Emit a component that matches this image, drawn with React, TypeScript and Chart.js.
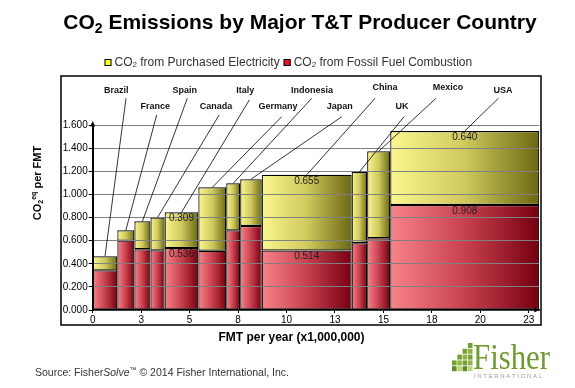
import React, { useEffect, useRef } from 'react';
import { Chart, registerables } from 'chart.js';

Chart.register(...registerables);

// ---------------- data ----------------
const countries = ['Brazil', 'France', 'Spain', 'Canada', 'Italy', 'Germany', 'Indonesia', 'Japan', 'China', 'UK', 'Mexico', 'USA'];
// production, million FMT per year (bar widths)
const productionMFMT = [1.27, 0.88, 0.83, 0.73, 1.74, 1.44, 0.72, 1.11, 4.64, 0.80, 1.19, 7.69];
// CO2eq per FMT from fossil fuel combustion
const fossilFuelCO2 = [0.343, 0.600, 0.525, 0.516, 0.536, 0.513, 0.689, 0.727, 0.514, 0.577, 0.620, 0.908];
// CO2eq per FMT from purchased electricity
const electricityCO2 = [0.122, 0.090, 0.242, 0.284, 0.309, 0.548, 0.407, 0.404, 0.655, 0.617, 0.753, 0.640];
const valueLabelCountries = ['Italy', 'China', 'USA'];
const xTickStep = 2.5;
const yMax = 1.6;
const yTickStep = 0.2;

const legendElectricity = ' from Purchased Electricity';
const legendFossil = ' from Fossil Fuel Combustion';
const titleRest = ' Emissions by Major T&T Producer Country';
const xTitle = 'FMT per year (x1,000,000)';

// ------------- annotation layout (callout text position, leader start) -------------
// tx / lx in x-axis units, ty / ly in px above the plot top
const calloutLayout: Record<string, { tx: number; ty: number; lx: number; ly: number }> = {
  Brazil: { tx: 1.21, ty: 34.3, lx: 1.72, ly: 26.7 },
  France: { tx: 3.23, ty: 18.3, lx: 3.30, ly: 10 },
  Spain: { tx: 4.75, ty: 34.3, lx: 4.88, ly: 26.7 },
  Canada: { tx: 6.36, ty: 18.3, lx: 6.52, ly: 10 },
  Italy: { tx: 7.87, ty: 34.3, lx: 8.08, ly: 25 },
  Germany: { tx: 9.56, ty: 18.3, lx: 9.75, ly: 8.3 },
  Indonesia: { tx: 11.32, ty: 34.3, lx: 11.30, ly: 26.7 },
  Japan: { tx: 12.75, ty: 18.3, lx: 12.85, ly: 8.3 },
  China: { tx: 15.08, ty: 37.7, lx: 14.57, ly: 26.7 },
  UK: { tx: 15.96, ty: 18.3, lx: 16.06, ly: 8.3 },
  Mexico: { tx: 18.33, ty: 37.7, lx: 17.71, ly: 26.7 },
  USA: { tx: 21.17, ty: 34.3, lx: 20.93, ly: 26.7 },
};

const FONT = "'Liberation Sans', Arial, sans-serif";
const RED_STOPS = ['#f7838a', '#c8404e', '#760010'];
const YELLOW_STOPS = ['#fbf68e', '#cfc95e', '#6c6812'];

const totalWidth = productionMFMT.reduce((a, b) => a + b, 0);
const starts = productionMFMT.map((_, i) => productionMFMT.slice(0, i).reduce((a, b) => a + b, 0));
const centers = starts.map((s, i) => s + productionMFMT[i] / 2);

function minSampleGap(): number {
  const vals = [...centers].sort((a, b) => a - b);
  let m = xTickStep;
  for (let i = 1; i < vals.length; i++) m = Math.min(m, vals[i] - vals[i - 1]);
  return m;
}

type Part = { t: string; font: string; dy?: number };
function drawParts(ctx: CanvasRenderingContext2D, parts: Part[], x: number, y: number, align: 'left' | 'center') {
  let w = 0;
  for (const p of parts) { ctx.font = p.font; w += ctx.measureText(p.t).width; }
  let cx = align === 'center' ? x - w / 2 : x;
  ctx.textAlign = 'left';
  for (const p of parts) {
    ctx.font = p.font;
    ctx.fillText(p.t, cx, y + (p.dy || 0));
    cx += ctx.measureText(p.t).width;
  }
  return w;
}

function gradientFor(i: number, stops: string[]) {
  return (c: any) => {
    const chart = c.chart;
    const xs = chart.scales && chart.scales.x;
    if (!chart.chartArea || !xs) return stops[1];
    const x0 = xs.getPixelForValue(starts[i]);
    const x1 = xs.getPixelForValue(starts[i] + productionMFMT[i]);
    const g = chart.ctx.createLinearGradient(x0, 0, x1, 0);
    g.addColorStop(0, stops[0]);
    g.addColorStop(0.5, stops[1]);
    g.addColorStop(1, stops[2]);
    return g;
  };
}

const decorPlugin = {
  id: 'decor',
  afterDraw(chart: any) {
    const ctx: CanvasRenderingContext2D = chart.ctx;
    const { left, right, top, bottom } = chart.chartArea;
    const xs = chart.scales.x;
    const ys = chart.scales.y;
    ctx.save();

    // frame around plot
    ctx.strokeStyle = '#000';
    ctx.lineWidth = 1.5;
    ctx.strokeRect(left - 31.7, top - 49, right - left + 33.4, bottom - top + 64);

    // axis arrows
    ctx.fillStyle = '#000';
    ctx.beginPath();
    ctx.moveTo(left, top - 4);
    ctx.lineTo(left - 2.5, top + 1.5);
    ctx.lineTo(left + 2.5, top + 1.5);
    ctx.closePath();
    ctx.fill();
    ctx.beginPath();
    ctx.moveTo(right, bottom);
    ctx.lineTo(right - 5, bottom - 2.5);
    ctx.lineTo(right - 5, bottom + 2.5);
    ctx.closePath();
    ctx.fill();

    // title
    ctx.fillStyle = '#000';
    ctx.textBaseline = 'alphabetic';
    drawParts(ctx, [
      { t: 'CO', font: `bold 21px ${FONT}` },
      { t: '2', font: `bold 14px ${FONT}`, dy: 4 },
      { t: titleRest, font: `bold 21px ${FONT}` },
    ], 300, 28.5, 'center');

    // legend
    const ly = 63;
    const drawLegendItem = (x: number, color: string, rest: string) => {
      ctx.fillStyle = color;
      ctx.fillRect(x, ly - 4, 7, 7);
      ctx.strokeStyle = '#000';
      ctx.lineWidth = 1;
      ctx.strokeRect(x + 0.5, ly - 3.5, 6, 6);
      ctx.fillStyle = '#333';
      ctx.textBaseline = 'middle';
      return drawParts(ctx, [
        { t: 'CO', font: `12px ${FONT}` },
        { t: '2', font: `8px ${FONT}`, dy: 2 },
        { t: rest, font: `12px ${FONT}` },
      ], x + 10, ly, 'left');
    };
    const w1 = drawLegendItem(104.5, '#ffff33', legendElectricity);
    drawLegendItem(104.5 + 10 + w1 + 4, '#e8102a', legendFossil);

    // y axis title
    ctx.save();
    ctx.translate(38, 183);
    ctx.rotate(-Math.PI / 2);
    ctx.fillStyle = '#000';
    ctx.textBaseline = 'middle';
    drawParts(ctx, [
      { t: 'CO', font: `bold 11px ${FONT}` },
      { t: '2', font: `bold 7px ${FONT}`, dy: 3 },
      { t: 'eq', font: `bold 7px ${FONT}`, dy: -4 },
      { t: ' per FMT', font: `bold 11px ${FONT}` },
    ], 0, 0, 'center');
    ctx.restore();

    // x axis title
    ctx.fillStyle = '#000';
    ctx.font = `bold 12px ${FONT}`;
    ctx.textAlign = 'center';
    ctx.textBaseline = 'middle';
    ctx.fillText(xTitle, 291.5, 337.5);

    // callouts
    countries.forEach((c, i) => {
      const L = calloutLayout[c];
      if (!L) return;
      const tx = xs.getPixelForValue(L.tx);
      const lx = xs.getPixelForValue(L.lx);
      const ex = xs.getPixelForValue(centers[i]);
      const ey = ys.getPixelForValue(fossilFuelCO2[i] + electricityCO2[i]);
      ctx.strokeStyle = '#000';
      ctx.lineWidth = 0.8;
      ctx.beginPath();
      ctx.moveTo(lx, top - L.ly);
      ctx.lineTo(ex, ey);
      ctx.stroke();
      ctx.fillStyle = '#111';
      ctx.font = `bold 9px ${FONT}`;
      ctx.textAlign = 'center';
      ctx.textBaseline = 'middle';
      ctx.fillText(c, tx, top - L.ty);
    });

    // value labels
    ctx.font = `10px ${FONT}`;
    ctx.fillStyle = '#222';
    ctx.textAlign = 'center';
    ctx.textBaseline = 'middle';
    countries.forEach((c, i) => {
      if (!valueLabelCountries.includes(c)) return;
      const cx = xs.getPixelForValue(centers[i]);
      ctx.fillText(fossilFuelCO2[i].toFixed(3), cx, ys.getPixelForValue(fossilFuelCO2[i]) + 6);
      ctx.fillText(electricityCO2[i].toFixed(3), cx, ys.getPixelForValue(fossilFuelCO2[i] + electricityCO2[i]) + 6);
    });

    // source
    ctx.fillStyle = '#333';
    ctx.textBaseline = 'middle';
    drawParts(ctx, [
      { t: 'Source: Fisher', font: `10.5px ${FONT}` },
      { t: 'Solve', font: `italic 10.5px ${FONT}` },
      { t: '™', font: `7px ${FONT}`, dy: -3 },
      { t: ' © 2014 Fisher International, Inc.', font: `10.5px ${FONT}` },
    ], 35, 373, 'left');

    // logo
    const greens = ['#5d8c22', '#8cb640', '#b9d47a', '#74a232'];
    const rows = [[3], [2, 3], [1, 2, 3], [0, 1, 2, 3], [0, 1, 2, 3]];
    rows.forEach((cols, r) => {
      cols.forEach((cc, k) => {
        ctx.fillStyle = greens[(r + cc + k) % greens.length];
        ctx.fillRect(452 + cc * 5.3, 343 + r * 5.8, 4.6, 5);
      });
    });
    ctx.fillStyle = '#6f9a30';
    ctx.font = `36px 'Liberation Serif', 'DejaVu Serif', serif`;
    ctx.textAlign = 'left';
    ctx.textBaseline = 'alphabetic';
    ctx.fillText('Fisher', 473, 369, 77);
    ctx.fillStyle = '#9a9a9a';
    ctx.font = `6px ${FONT}`;
    ctx.fillText('I N T E R N A T I O N A L', 474, 378, 75);

    ctx.restore();
  },
};

export default function App() {
  const ref = useRef<HTMLCanvasElement | null>(null);
  useEffect(() => {
    document.body.style.margin = '0';
    const canvas = ref.current;
    if (!canvas) return;
    const gap = minSampleGap();
    const datasets: any[] = [];
    countries.forEach((c, i) => {
      const common = {
        borderColor: '#000',
        borderWidth: 1.2,
        borderSkipped: false,
        grouped: false,
        categoryPercentage: 1,
        barPercentage: productionMFMT[i] / gap,
      };
      datasets.push({
        ...common,
        label: `${c} fossil`,
        data: [{ x: centers[i], y: [0, fossilFuelCO2[i]] }],
        backgroundColor: gradientFor(i, RED_STOPS),
      });
      datasets.push({
        ...common,
        label: `${c} electricity`,
        data: [{ x: centers[i], y: [fossilFuelCO2[i], fossilFuelCO2[i] + electricityCO2[i]] }],
        backgroundColor: gradientFor(i, YELLOW_STOPS),
      });
    });

    const chart = new Chart(canvas, {
      type: 'bar',
      data: { datasets },
      plugins: [decorPlugin],
      options: {
        responsive: false,
        animation: false,
        devicePixelRatio: 1,
        events: [],
        layout: { padding: { left: 62.7, top: 125, right: 35.7, bottom: 62 } },
        plugins: { legend: { display: false }, tooltip: { enabled: false }, title: { display: false } },
        scales: {
          x: {
            type: 'linear',
            min: 0,
            max: totalWidth,
            offset: false,
            grid: { display: true, drawOnChartArea: false, drawTicks: true, tickLength: 3, color: '#000', offset: false },
            border: { display: true, color: '#000', width: 1.5, z: 2 },
            ticks: {
              stepSize: xTickStep,
              includeBounds: false,
              autoSkip: false,
              maxRotation: 0,
              padding: 1,
              color: '#000',
              font: { family: FONT, size: 10 },
              callback: (v: any) => String(Math.round(Number(v))),
            },
            afterFit: (s: any) => { s.height = 16; },
          },
          y: {
            min: 0,
            max: yMax,
            grid: { color: '#808080', lineWidth: 1, tickLength: 4, tickColor: '#000', z: 1 },
            border: { display: true, color: '#000', width: 2, z: 2 },
            ticks: {
              stepSize: yTickStep,
              padding: 1,
              color: '#000',
              font: { family: FONT, size: 10 },
              callback: (v: any) => Number(v).toFixed(3),
            },
            afterFit: (s: any) => { s.width = 30; },
          },
        },
      } as any,
    });
    return () => chart.destroy();
  }, []);
  return (
    <div style={{ position: 'fixed', left: 0, top: 0, width: 575, height: 388, background: '#fff' }}>
      <canvas ref={ref} width={575} height={388} style={{ display: 'block', width: 575, height: 388 }} />
    </div>
  );
}
